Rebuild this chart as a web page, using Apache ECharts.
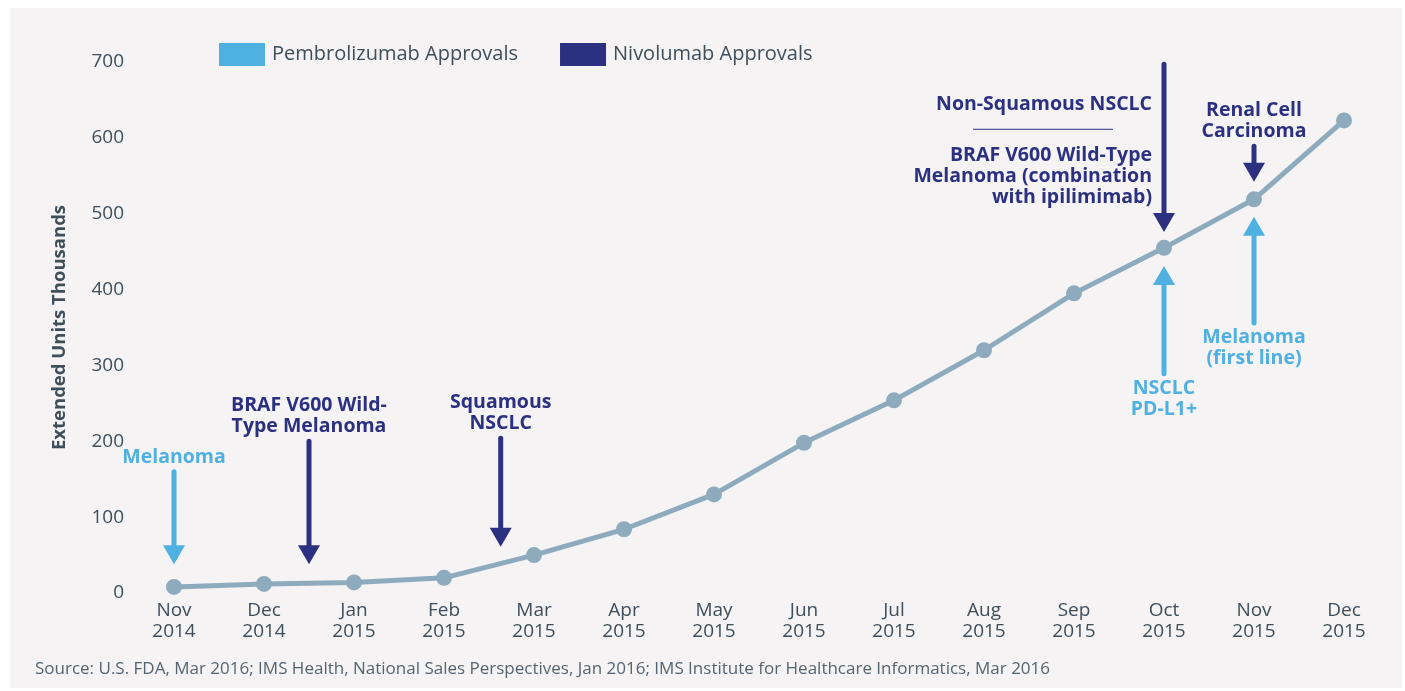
<!DOCTYPE html>
<html>
<head>
<meta charset="utf-8">
<title>Extended units with approvals</title>
<script src="https://cdn.jsdelivr.net/npm/echarts@6/dist/echarts.min.js"></script>
<style>
  html, body { margin: 0; padding: 0; background: #fff; }
  #chart { width: 1405px; height: 691px; }
</style>
</head>
<body>
<div id="chart"></div>
<script>
// monthly extended units, thousands
const months = ["Nov\n2014", "Dec\n2014", "Jan\n2015", "Feb\n2015", "Mar\n2015", "Apr\n2015", "May\n2015",
  "Jun\n2015", "Jul\n2015", "Aug\n2015", "Sep\n2015", "Oct\n2015", "Nov\n2015", "Dec\n2015"];
const units = [8, 12, 14, 20, 50, 84, 130, 198, 254, 320, 395, 455, 519, 623];
const yTicks = [0, 100, 200, 300, 400, 500, 600, 700];

// approvals: [month index, arrow from, arrow to] in axis units
const pembroArrows = [[0, 160, 38], [11, 289, 431], [12, 356, 496]];
const pembroLabels = ["Melanoma", "NSCLC\nPD-L1+", "Melanoma\n(first line)"];
const nivoArrows = [[1.5, 200, 38], [3.63, 204, 61], [11, 697, 476], [12, 589, 542]];
const nivoLabels = [
  "BRAF V600 Wild-\nType Melanoma",
  "Squamous\nNSCLC",
  ["Non-Squamous NSCLC", "BRAF V600 Wild-Type\nMelanoma (combination\nwith ipilimimab)"],
  "Renal Cell\nCarcinoma"
];

const FONT = "'Open Sans', sans-serif";
const TEXT = "#3e4f5b";
const PEMBRO = "#4fb0e2";
const NIVO = "#2b3180";
const LINE = "#8eabbd";

function arrowRenderer(labels, color) {
  return function (params, api) {
    const start = api.coord([api.value(0), api.value(1)]);
    const end = api.coord([api.value(0), api.value(2)]);
    const dir = end[1] > start[1] ? 1 : -1;
    const baseY = end[1] - dir * 19;
    const label = labels[params.dataIndex];
    const textStyle = { fill: color, fontFamily: FONT, fontSize: 19.5, fontWeight: "bold", lineHeight: 21 };
    const children = [
      { type: "line", shape: { x1: start[0], y1: start[1], x2: end[0], y2: baseY },
        style: { stroke: color, lineWidth: 5, lineCap: "round" } },
      { type: "polygon", shape: { points: [[end[0] - 11, baseY], [end[0] + 11, baseY], [end[0], end[1]]] },
        style: { fill: color } }
    ];
    if (Array.isArray(label)) {
      // side label with a divider, right aligned to the left of the arrow
      children.push(
        { type: "text", x: start[0] - 12, y: start[1] + 30,
          style: Object.assign({ text: label[0], align: "right", verticalAlign: "top" }, textStyle) },
        { type: "line", shape: { x1: start[0] - 191, y1: start[1] + 65, x2: start[0] - 51, y2: start[1] + 65 },
          style: { stroke: color, lineWidth: 1 } },
        { type: "text", x: start[0] - 12, y: start[1] + 81,
          style: Object.assign({ text: label[1], align: "right", verticalAlign: "top" }, textStyle) }
      );
    } else {
      children.push({ type: "text", x: start[0], y: start[1] - dir * 4,
        style: Object.assign({ text: label, align: "center", verticalAlign: dir > 0 ? "bottom" : "top" }, textStyle) });
    }
    return { type: "group", children: children };
  };
}

const chart = echarts.init(document.getElementById("chart"));
chart.setOption({
  backgroundColor: "#fff",
  animation: false,
  textStyle: { fontFamily: FONT },
  graphic: [
    { type: "rect", left: 10, top: 8, z: -10, shape: { width: 1392, height: 680 }, style: { fill: "#f5f3f4" } },
    { type: "text", left: 35, top: 661,
      style: { text: "Source: U.S. FDA, Mar 2016; IMS Health, National Sales Perspectives, Jan 2016; IMS Institute for Healthcare Informatics, Mar 2016",
        fill: "#55656f", fontFamily: FONT, fontSize: 17 } }
  ],
  legend: {
    left: 219, top: 43, padding: 0, itemGap: 42, itemWidth: 46, itemHeight: 23, icon: "rect",
    data: ["Pembrolizumab Approvals", "Nivolumab Approvals"],
    textStyle: { color: TEXT, fontSize: 20, fontFamily: FONT, padding: [0, 0, 0, 2] }
  },
  grid: { left: 129, right: 16, top: 62, bottom: 98 },
  xAxis: [
    {
      type: "category", data: months, boundaryGap: true,
      axisLine: { show: false }, axisTick: { show: false },
      axisLabel: { color: TEXT, fontSize: 19, lineHeight: 21, margin: 7, interval: 0 }
    },
    { type: "value", min: -0.5, max: 13.5, show: false }
  ],
  yAxis: {
    type: "value", min: yTicks[0], max: yTicks[yTicks.length - 1], interval: 100,
    name: "Extended Units Thousands", nameLocation: "middle", nameGap: 60,
    nameTextStyle: { color: TEXT, fontSize: 18.5, fontWeight: "bold", fontFamily: FONT },
    axisLine: { show: false }, axisTick: { show: false }, splitLine: { show: false },
    axisLabel: { color: TEXT, fontSize: 19, margin: 5 }
  },
  series: [
    {
      name: "Extended Units", type: "line", data: units,
      symbol: "circle", symbolSize: 16,
      lineStyle: { color: LINE, width: 5 }, itemStyle: { color: LINE }
    },
    {
      name: "Pembrolizumab Approvals", type: "custom", xAxisIndex: 1, yAxisIndex: 0,
      itemStyle: { color: PEMBRO }, encode: { x: 0, y: [1, 2] },
      renderItem: arrowRenderer(pembroLabels, PEMBRO), data: pembroArrows, z: 3
    },
    {
      name: "Nivolumab Approvals", type: "custom", xAxisIndex: 1, yAxisIndex: 0,
      itemStyle: { color: NIVO }, encode: { x: 0, y: [1, 2] },
      renderItem: arrowRenderer(nivoLabels, NIVO), data: nivoArrows, z: 3
    }
  ]
});
window.addEventListener("resize", () => chart.resize());
</script>
</body>
</html>
